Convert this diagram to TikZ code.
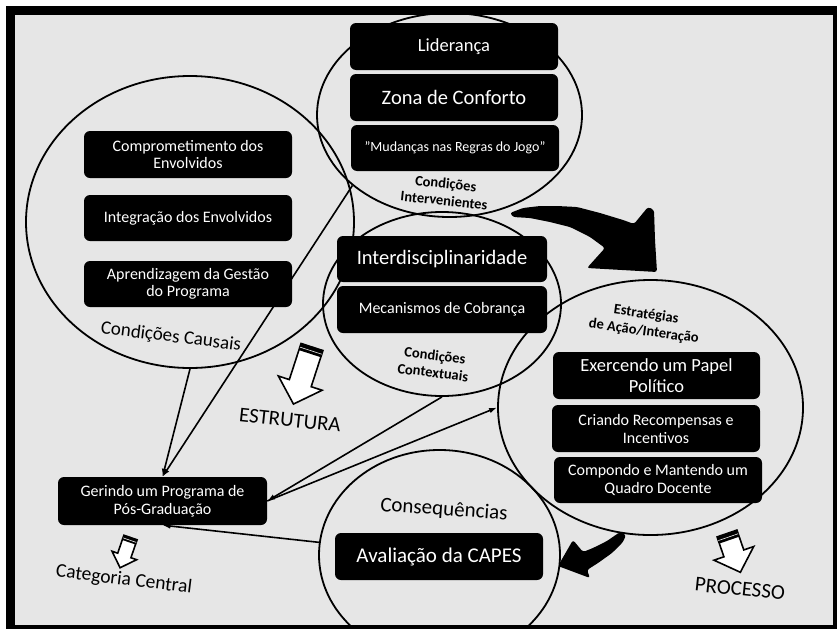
\documentclass[tikz,border=0pt]{standalone}
\usepackage{fontspec}
\setmainfont{Carlito}
\usetikzlibrary{shapes.geometric,arrows.meta}

\definecolor{panel}{HTML}{E6E6E6}

% white block arrow with a dark band across its tail end
% #1,#2 tail centre  #3 angle  #4 half shaft  #5 shaft length  #6 half head  #7 head length  #8 band
\newcommand\whitearrow[8]{%
  \begin{scope}[shift={(#1,#2)},rotate=#3]
    \draw[line width=1.6pt, fill=white, line join=miter]
      (-#4,0) -- (#4,0) -- (#4,#5) -- (#6,#5) -- (0,#5+#7) -- (-#6,#5) -- (-#4,#5) -- cycle;
    \fill (-#4,0) rectangle (#4,#8);
    \draw[panel!60, line width=0.6pt] (-#4,#8*0.55) -- (#4,#8*0.55);
  \end{scope}}

\begin{document}
\begin{tikzpicture}[x=1pt,y=-1pt,
  box/.style={fill=black, rounded corners=6pt, text=white, align=center,
              minimum width=208pt, minimum height=47pt, inner sep=1pt},
  ring/.style={ellipse, draw, line width=1.8pt, inner sep=0pt},
  link/.style={line width=1.6pt, -{Latex[length=8pt,width=5.5pt]}},
  tag/.style={align=center, inner sep=0pt},
  smalltag/.style={tag, font=\bfseries\fontsize{14.5}{17}\selectfont},
  bigtag/.style={tag, font=\fontsize{21}{23}\selectfont},
]
\useasboundingbox (0,0) rectangle (837,629);
\fill[white] (0,0) rectangle (837,629);
\fill[black] (6,6) rectangle (837,629);
\fill[panel] (15,15) rectangle (833,625);

\begin{scope}
\clip (15,15) rectangle (833,625);

% the five condition circles
\node[ring, minimum width=328pt, minimum height=292pt] (causal) at (190,222) {};
\node[ring, minimum width=265pt, minimum height=204pt] (interv) at (449.5,115) {};
\node[ring, minimum width=238pt, minimum height=184pt] (ctx) at (442,304) {};
\node[ring, minimum width=305pt, minimum height=255pt] (strat) at (650.5,407.5) {};
\node[ring, minimum width=241pt, minimum height=210pt] (cons) at (439.5,555) {};

% central category
\node[box, minimum width=209pt, minimum height=48pt, font=\fontsize{16}{18}\selectfont]
  (ger) at (162.5,501) {Gerindo um Programa de\\Pós-Graduação};

% connectors
\draw[link] (causal.south) -- (ger.north);
\draw[link] (interv.216) -- (ger.north);
\draw[link] (ctx.south) -- (ger.east);
\draw[link] (ger.east) -- (strat.west);
\draw[link] (cons.174) -- (ger.south);

% intervening conditions
\node[box, font=\fontsize{18.5}{20}\selectfont] (lid) at (454,46.5) {Liderança};
\node[box, font=\fontsize{20.5}{22}\selectfont] (zona) at (454,97.5) {Zona de Conforto};
\node[box, minimum height=46pt, font=\fontsize{14}{16}\selectfont] (regras) at (455,148) {"Mudanças nas Regras do Jogo”};
\node[smalltag, rotate=-6] (tinterv) at (445,192) {Condições\\Intervenientes};

% causal conditions
\node[box, font=\fontsize{16}{17.5}\selectfont] (compr) at (188,154.5) {Comprometimento dos\\Envolvidos};
\node[box, minimum height=46pt, font=\fontsize{16}{17.5}\selectfont] (integr) at (188,218) {Integração dos Envolvidos};
\node[box, minimum height=46pt, font=\fontsize{16}{17.5}\selectfont] (aprend) at (188,284) {Aprendizagem da Gestão\\do Programa};
\node[tag, rotate=-7, font=\fontsize{19}{21}\selectfont] (tcausal) at (171,337) {Condições Causais};

% contextual conditions
\node[box, minimum width=210pt, minimum height=46pt, font=\fontsize{20.5}{22}\selectfont] (inter) at (442,259) {Interdisciplinaridade};
\node[box, minimum width=210pt, font=\fontsize{16}{17.5}\selectfont] (mecan) at (442,309.5) {Mecanismos de Cobrança};
\node[smalltag, rotate=-7] (tctx) at (434,364) {Condições\\Contextuais};

% action / interaction strategies
\node[smalltag, rotate=-8] (tstrat) at (645,323) {Estratégias\\de Ação/Interação};
\node[box, minimum width=207pt, font=\fontsize{18.5}{21.5}\selectfont] (papel) at (656.5,375.5) {Exercendo um Papel\\Político};
\node[box, font=\fontsize{16}{18}\selectfont] (recomp) at (656,428.5) {Criando Recompensas e\\Incentivos};
\node[box, minimum height=46pt, font=\fontsize{16}{18}\selectfont] (quadro) at (658,480) {Compondo e Mantendo um\\Quadro Docente};

% consequences
\node[bigtag, rotate=-4] (tcons) at (444,510) {Consequências};
\node[box, font=\fontsize{21}{23}\selectfont] (capes) at (439,556.5) {Avaliação da CAPES};

% bold hand-drawn arrows
\fill[rounded corners=2.5pt] (510,213) -- (523,208) -- (540,206) -- (557,206) -- (577,207)
  -- (600,213) -- (623,220) -- (634,224) -- (648,207) -- (654,210) -- (655,240)
  -- (657,272) -- (587,268) -- (605,248) -- (590,237) -- (570,227) -- (550,222)
  -- (530,218) -- (513,217) -- cycle;
\fill[rounded corners=2.5pt] (620,532) -- (607,541) -- (593,548) -- (583,552) -- (573,540)
  -- (558,566) -- (590,578) -- (587,570) -- (598,563) -- (612,553) -- (623,542)
  -- (626,535) -- cycle;

% block arrows and their captions
\whitearrow{312}{347}{-18}{11.5}{38}{23}{22}{7}
\node[bigtag, rotate=-6] (testr) at (290,420) {ESTRUTURA};
\whitearrow{130.5}{537.5}{-19}{7}{19}{13}{13}{5}
\node[tag, rotate=-7, font=\fontsize{19.5}{21}\selectfont] (tcat) at (124,580) {Categoria Central};
\whitearrow{727}{533.5}{19}{10.5}{21}{21}{20}{7}
\node[bigtag, rotate=-6] (tproc) at (740,589) {PROCESSO};
\end{scope}
\end{tikzpicture}
\end{document}
